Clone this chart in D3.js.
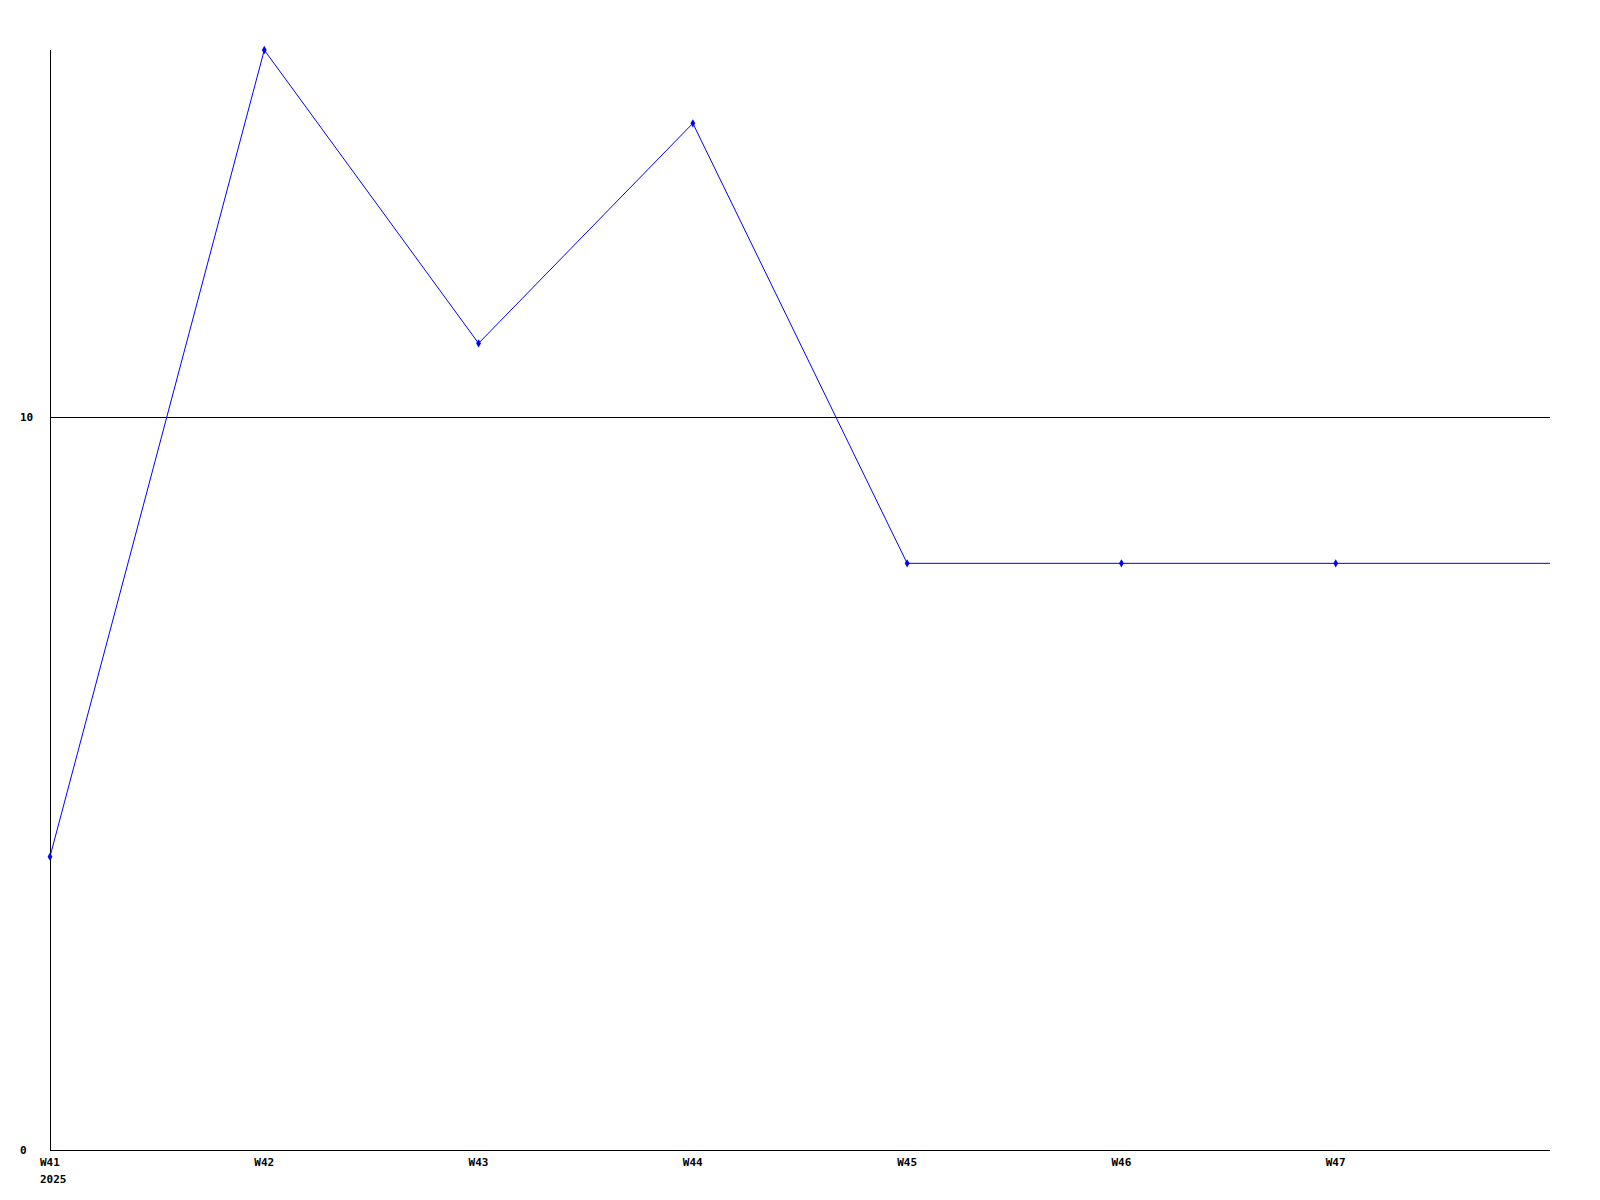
<!DOCTYPE html>
<html>
<head>
<meta charset="utf-8">
<script src="https://cdn.jsdelivr.net/npm/d3@7"></script>
<style>
  body { margin: 0; background: #fff; }
  text { font-family: "DejaVu Sans Mono", monospace; font-size: 11px; font-weight: bold; fill: #000; }
</style>
</head>
<body>
<div id="chart"></div>
<script>
'use strict';

var weeks = ['W41', 'W42', 'W43', 'W44', 'W45', 'W46', 'W47', 'W48'];
var weekLabels = ['W41', 'W42', 'W43', 'W44', 'W45', 'W46', 'W47', ''];
var values = [4, 15, 11, 14, 8, 8, 8, 8];
var yTicks = [0, 10];
var yearLabel = '2025';

var width = 1600, height = 1200;
var margin = {top: 50, right: 50, bottom: 50, left: 50};

var svg = d3.select('#chart').append('svg')
    .attr('width', width)
    .attr('height', height);

var x = d3.scalePoint()
  .domain(weeks)
  .range([margin.left, width - margin.right]);

var y = d3.scaleLinear()
  .domain([0, 15])
  .range([height - margin.bottom, margin.top]);

// axes frame
svg.append('line')
  .attr('x1', x.range()[0] + 0.5).attr('x2', x.range()[0] + 0.5)
  .attr('y1', y(15)).attr('y2', y(0))
  .attr('stroke', '#000').attr('stroke-width', 1);

svg.append('line')
  .attr('x1', x.range()[0]).attr('x2', x.range()[1])
  .attr('y1', y(0) + 0.5).attr('y2', y(0) + 0.5)
  .attr('stroke', '#000').attr('stroke-width', 1);

// reference line at 10
svg.selectAll('.grid')
  .data(yTicks.filter(function(d) { return d > 0; }))
  .enter().append('line')
  .attr('class', 'grid')
  .attr('x1', x.range()[0]).attr('x2', x.range()[1])
  .attr('y1', function(d) { return Math.round(y(d)) + 0.5; })
  .attr('y2', function(d) { return Math.round(y(d)) + 0.5; })
  .attr('stroke', '#000').attr('stroke-width', 1);

svg.selectAll('.ytick')
  .data(yTicks)
  .enter().append('text')
  .attr('class', 'ytick')
  .attr('x', 20)
  .attr('y', function(d) { return y(d) + 4; })
  .text(function(d) { return d; });

svg.selectAll('.xtick')
  .data(weeks)
  .enter().append('text')
  .attr('class', 'xtick')
  .attr('x', function(d) { return x(d) - 10; })
  .attr('y', y(0) + 16)
  .text(function(d, i) { return weekLabels[i]; });

svg.append('text')
  .attr('x', x(weeks[0]) - 10)
  .attr('y', y(0) + 33)
  .text(yearLabel);

// series
var line = d3.line()
  .x(function(d, i) { return x(weeks[i]); })
  .y(function(d) { return y(d); });

svg.append('path')
  .datum(values)
  .attr('fill', 'none')
  .attr('stroke', '#0000ff')
  .attr('stroke-width', 1)
  .attr('d', line);

svg.selectAll('.pt')
  .data(values.slice(0, 7))
  .enter().append('path')
  .attr('class', 'pt')
  .attr('transform', function(d, i) { return 'translate(' + x(weeks[i]) + ',' + y(d) + ')'; })
  .attr('d', d3.symbol().type(d3.symbolDiamond).size(20))
  .attr('fill', '#0000ff');
</script>
</body>
</html>
